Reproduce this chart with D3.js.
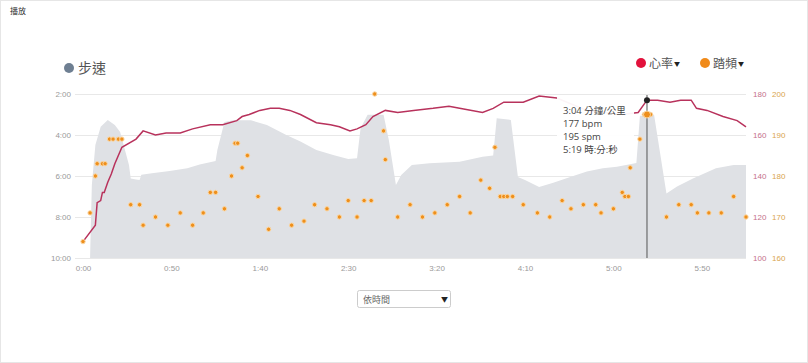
<!DOCTYPE html>
<html>
<head>
<meta charset="utf-8">
<script src="https://d3js.org/d3.v7.min.js"></script>
<style>
    body { margin: 0; background: #fff; }
    svg { font-family: "Open Sans", "Noto Sans CJK TC", sans-serif; }
    .grid line { stroke: #e8e8e8; }
    .grid path, .axis path { display: none; }
    .axis line { display: none; }
    .hr-line { fill: none; stroke: #b8325c; stroke-width: 1.5px; }
    .pace-area { fill: #dfe1e5; }
</style>
</head>
<body>
<svg width="808" height="363"></svg>

<script>
// time in seconds
var paceT = [4,5,7,10,14,18,21,24,26,27,30,32,33,39,49,59,66,75,76,78,80,85,95,104,115,123,132,142,150,155,157,161,170,173,177,180,186,196,213,226,232,234,242,246,250,258,266,276,285,294,302,313,315,319,323,330,336,345,358,368,375];
// pace in seconds per km
var paceV = [600,386,269,216,196,211,231,289,328,367,370,372,356,352,345,337,326,316,284,243,202,197,197,211,240,259,284,299,310,308,220,181,181,255,386,357,328,323,318,304,300,191,196,363,372,392,380,362,347,337,333,322,184,184,181,411,391,367,337,328,328];

var hrT = [0,7,8,10,11,12,14,16,18,22,30,34,41,47,55,62,72,79,87,90,94,100,106,111,117,123,132,140,145,151,155,160,164,171,178,187,198,207,213,226,232,238,249,258,268,285,305,314,319,325,332,338,344,347,353,362,370,375];
var hrV = [108,116,127,128,132,132,137,141,146,154,158,162,160,161,161,163,165,165,167,169,170,172,173,173,172,170,166,165,164,162,163,165,169,172,171,172,173,174,173,171,173,176,176,179,178,172,170,171,177,177,176,177,177,173,172,169,167,164];

var cadT = [0,4,7,8,11,12.5,15,17,20,22,27,32,34,41,48,55,62,68,72,75,80,84,86,87.5,90,93,99,105,111,118,125,131,138,145,150,155,159,163,165,170,171,178,185,192,199,206,213,219,225,230,233,236,238,240,243,249,257,264,271,276,283,290,293,300,305,306.5,308.5,309.5,315,317.5,319,321,330,337,344,347.5,354,361,368,375];
var cadV = [164,171,180,183,183,183,189,189,189,189,173,173,168,170,168,171,168,171,176,176,172,180,188,188,182,185,175,167,172,168,169,173,172,170,174,170,174,174,200,191,184,170,173,170,171,173,175,171,179,177,187,175,175,175,175,173,171,170,174,172,173,173,171,172,176,175,175,182,189,195,195,195,170,173,173,171,171,171,175,170];

var timeTicks = [0,50,100,150,200,250,300,350];
var paceTicks = [120,240,360,480,600];
var hrTicks = [100,120,140,160,180];
var cadTicks = [160,170,180,190,200];
var cursorT = 319;

function fmt(s) {
    var m = Math.floor(s / 60), r = Math.round(s % 60);
    return m + ":" + (r < 10 ? "0" : "") + r;
}

var svg = d3.select("svg");

svg.append("rect").attr("x", 0.5).attr("y", 0.5).attr("width", 807).attr("height", 362)
    .attr("fill", "none").attr("stroke", "#e6e6e6");

svg.append("text").attr("x", 10).attr("y", 14).attr("font-size", 8).attr("fill", "#333")
    .text("播放");

var x = d3.scaleLinear().domain([0, 375]).range([83, 746]),
    yPace = d3.scaleLinear().domain([120, 600]).range([94, 258]),
    yHr = d3.scaleLinear().domain([100, 180]).range([258, 94]),
    yCad = d3.scaleLinear().domain([160, 200]).range([258, 94]);

// grid + left axis
svg.append("g")
    .attr("class", "grid")
    .attr("transform", "translate(75,0)")
    .call(d3.axisLeft(yPace).tickValues(paceTicks).tickSize(-(746 - 75)).tickPadding(4).tickFormat(fmt))
    .call(function (g) {
        g.selectAll("text").attr("fill", "#9a9a9a").attr("font-size", 8);
    });

var paceData = paceT.map(function (t, i) { return {t: t, v: paceV[i]}; });
var hrData = hrT.map(function (t, i) { return {t: t, v: hrV[i]}; });
var cadData = cadT.map(function (t, i) { return {t: t, v: cadV[i]}; });

svg.append("path")
    .datum(paceData)
    .attr("class", "pace-area")
    .attr("d", d3.area()
        .x(function (d) { return x(d.t); })
        .y0(yPace(600))
        .y1(function (d) { return yPace(d.v); }));

svg.append("path")
    .datum(hrData)
    .attr("class", "hr-line")
    .attr("d", d3.line()
        .x(function (d) { return x(d.t); })
        .y(function (d) { return yHr(d.v); }));

svg.append("g")
    .selectAll("circle")
    .data(cadData)
    .enter().append("circle")
    .attr("cx", function (d) { return x(d.t); })
    .attr("cy", function (d) { return yCad(d.v); })
    .attr("r", 2.2)
    .attr("fill", "#ee8f1c")
    .attr("stroke", "#fbd7a4")
    .attr("stroke-width", 1);

// x axis
svg.append("g")
    .attr("class", "axis")
    .attr("transform", "translate(0,258)")
    .call(d3.axisBottom(x).tickValues(timeTicks).tickSize(0).tickPadding(7).tickFormat(fmt))
    .call(function (g) {
        g.selectAll("text").attr("fill", "#9a9a9a").attr("font-size", 8);
    });

// right axes
svg.append("g")
    .attr("class", "axis")
    .attr("transform", "translate(749,0)")
    .call(d3.axisRight(yHr).tickValues(hrTicks).tickSize(0).tickPadding(4))
    .call(function (g) {
        g.selectAll("text").attr("fill", "#c4718a").attr("font-size", 8);
    });

svg.append("g")
    .attr("class", "axis")
    .attr("transform", "translate(768,0)")
    .call(d3.axisRight(yCad).tickValues(cadTicks).tickSize(0).tickPadding(4))
    .call(function (g) {
        g.selectAll("text").attr("fill", "#d9a54e").attr("font-size", 8);
    });

// tooltip / cursor
var hrAt = hrV[hrT.indexOf(cursorT)],
    paceAt = paceV[paceT.indexOf(cursorT)],
    cadAt = cadV[cadT.indexOf(cursorT)];

svg.append("rect")
    .attr("x", 557).attr("y", 97).attr("width", 77).attr("height", 61)
    .attr("fill", "#fff").attr("fill-opacity", 0.95);

var tip = svg.append("g").attr("font-size", 9.5).attr("fill", "#444");
[fmt(paceAt) + " 分鐘/公里", hrAt + " bpm", cadAt + " spm", fmt(cursorT) + " 時:分:秒"]
    .forEach(function (s, i) {
        tip.append("text").attr("x", 563).attr("y", 114 + i * 13).text(s);
    });

svg.append("line")
    .attr("x1", x(cursorT)).attr("x2", x(cursorT))
    .attr("y1", 95).attr("y2", 258)
    .attr("stroke", "#555").attr("stroke-width", 1);

svg.append("circle")
    .attr("cx", x(cursorT)).attr("cy", yHr(hrAt)).attr("r", 3)
    .attr("fill", "#222");

svg.append("circle")
    .attr("cx", x(cursorT)).attr("cy", yCad(cadAt)).attr("r", 3.5)
    .attr("fill", "#ee8f1c").attr("stroke", "#fbd7a4");

// legends
svg.append("circle").attr("cx", 69).attr("cy", 68).attr("r", 5).attr("fill", "#6e7f92");
svg.append("text").attr("x", 78).attr("y", 73).attr("font-size", 14).attr("fill", "#555")
    .attr("font-family", "Noto Sans CJK TC").text("步速");

var legend = [{name: "心率", color: "#e2123c", x: 641}, {name: "踏頻", color: "#f08a1a", x: 705}];
legend.forEach(function (d) {
    svg.append("circle").attr("cx", d.x).attr("cy", 63).attr("r", 5).attr("fill", d.color);
    svg.append("text").attr("x", d.x + 8).attr("y", 67.5).attr("font-size", 12)
        .attr("fill", "#555").attr("font-family", "Noto Sans CJK TC").text(d.name);
    svg.append("text").attr("x", d.x + 33).attr("y", 66).attr("font-size", 6)
        .attr("fill", "#222").text("▼");
});

// dropdown
svg.append("rect")
    .attr("x", 357.5).attr("y", 290.5).attr("width", 93).attr("height", 17).attr("rx", 2)
    .attr("fill", "#fff").attr("stroke", "#ccc");
svg.append("text").attr("x", 363).attr("y", 302.5).attr("font-size", 9).attr("fill", "#666")
    .attr("font-family", "Noto Sans CJK TC").text("依時間");
svg.append("text").attr("x", 441).attr("y", 302).attr("font-size", 7).attr("fill", "#222")
    .text("▼");
</script>
</body>
</html>
